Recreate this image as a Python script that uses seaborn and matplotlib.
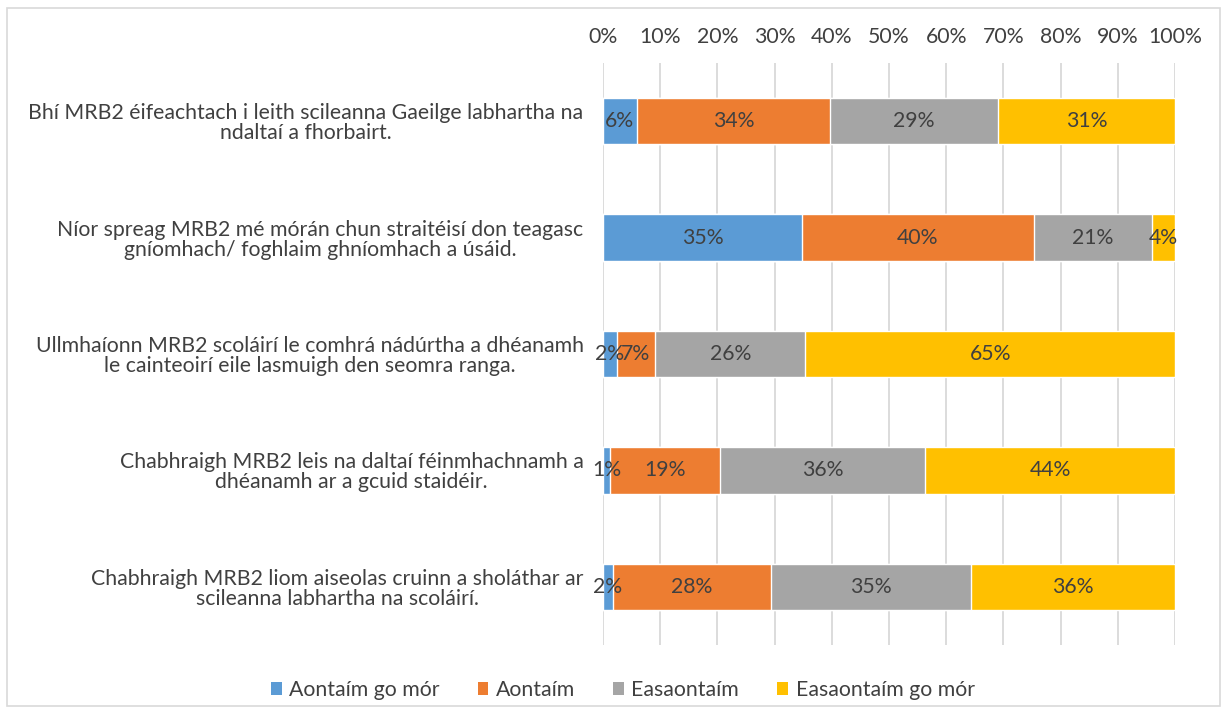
import matplotlib
matplotlib.use("Agg")
import matplotlib.pyplot as plt
from matplotlib.patches import Patch, Rectangle
import seaborn as sns
import pandas as pd
import numpy as np

# --- data ---
statements = [
    "Bhí MRB2 éifeachtach i leith scileanna Gaeilge labhartha na\nndaltaí a fhorbairt.",
    "Níor spreag MRB2 mé mórán chun straitéisí don teagasc\ngníomhach/ foghlaim ghníomhach a úsáid.",
    "Ullmhaíonn MRB2 scoláirí le comhrá nádúrtha a dhéanamh\nle cainteoirí eile lasmuigh den seomra ranga.",
    "Chabhraigh MRB2 leis na daltaí féinmhachnamh a\ndhéanamh ar a gcuid staidéir.",
    "Chabhraigh MRB2 liom aiseolas cruinn a sholáthar ar\nscileanna labhartha na scoláirí.",
]
responses = ["Aontaím go mór", "Aontaím", "Easaontaím", "Easaontaím go mór"]
aontaim_go_mor = [5.9, 34.8, 2.4, 1.2, 1.7]
aontaim = [33.8, 40.5, 6.7, 19.3, 27.6]
easaontaim = [29.4, 20.7, 26.3, 35.8, 35.1]
easaontaim_go_mor = [30.9, 4.0, 64.6, 43.7, 35.6]
pct_ticks = [0, 10, 20, 30, 40, 50, 60, 70, 80, 90, 100]

colors = ["#5B9BD5", "#ED7D31", "#A5A5A5", "#FFC000"]
text_col = "#404040"
fs = 15.3

df = pd.DataFrame({
    "statement": statements,
    responses[0]: aontaim_go_mor,
    responses[1]: aontaim,
    responses[2]: easaontaim,
    responses[3]: easaontaim_go_mor,
})
cum = df[responses].cumsum(axis=1)

sns.set_style("white")
plt.rcParams["font.family"] = ["Lato", "DejaVu Sans"]

fig = plt.figure(figsize=(12.26, 7.18), dpi=100)
ax = fig.add_axes([603 / 1226, 1 - 645 / 718, 572 / 1226, 582 / 718])

# stacked bars: draw the cumulative totals from the back to the front
for resp, col in reversed(list(zip(responses, colors))):
    sns.barplot(x=cum[resp], y=df["statement"], orient="h", color=col,
                width=0.4, saturation=1, ax=ax, zorder=3)

# segment labels
for i in range(len(df)):
    for resp in responses:
        v = df.loc[i, resp]
        ax.text(cum.loc[i, resp] - v / 2, i, f"{v:.0f}%", ha="center", va="center",
                fontsize=fs, color=text_col, zorder=4)

ax.set_xlim(0, 100)
ax.set_ylim(len(df) - 0.5, -0.5)
ax.set_xlabel("")
ax.set_ylabel("")
ax.xaxis.tick_top()
ax.set_xticks(pct_ticks)
ax.set_xticklabels([f"{t}%" for t in pct_ticks])
ax.tick_params(axis="x", length=0, pad=11.5, labelsize=fs, labelcolor=text_col)
ax.tick_params(axis="y", length=0, pad=14, labelsize=fs, labelcolor=text_col)
for t in ax.get_yticklabels():
    t.set_multialignment("center")
    t.set_linespacing(1.0)
ax.grid(axis="x", color="#D9D9D9", linewidth=1.3, zorder=0)
ax.grid(axis="y", visible=False)
for s in ax.spines.values():
    s.set_visible(False)

handles = [Patch(facecolor=c, edgecolor="none", label=r) for r, c in zip(responses, colors)]
fig.legend(handles=handles, loc="center", bbox_to_anchor=(0.508, 1 - 690 / 718), ncol=4,
           frameon=False, fontsize=fs, handlelength=0.5, handleheight=0.5,
           handletextpad=0.35, columnspacing=1.8, labelcolor=text_col)

# outer chart frame
fig.patches.append(Rectangle((7 / 1226, 1 - 706 / 718), 1213 / 1226, 698 / 718,
                             transform=fig.transFigure, fill=False,
                             edgecolor="#D9D9D9", linewidth=1.2))

fig.savefig("out.png", dpi=100)
